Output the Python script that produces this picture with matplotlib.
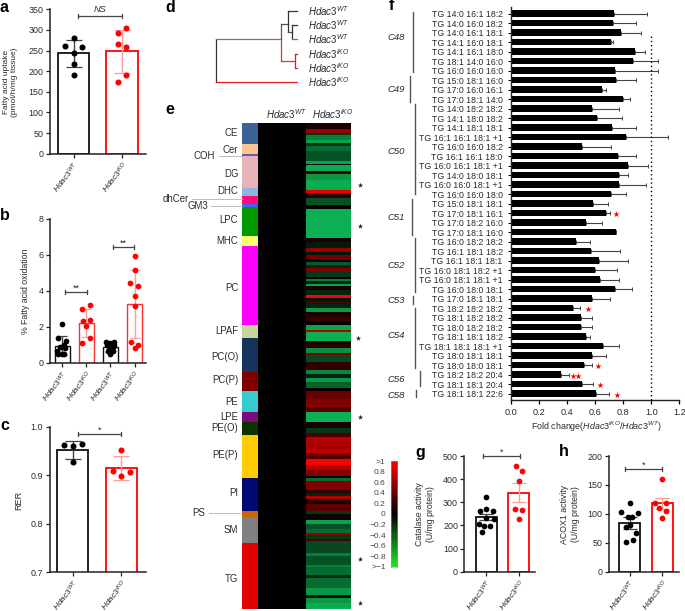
import numpy as np
import matplotlib
matplotlib.use('Agg')
import matplotlib.pyplot as plt
from matplotlib.colors import LinearSegmentedColormap

plt.rcParams['font.family'] = ['Liberation Sans', 'DejaVu Sans']
plt.rcParams['mathtext.fontset'] = 'custom'
plt.rcParams['mathtext.rm'] = 'Liberation Sans'
plt.rcParams['mathtext.it'] = 'Liberation Sans:italic'
plt.rcParams['mathtext.bf'] = 'Liberation Sans:bold'
plt.rcParams['axes.unicode_minus'] = True

WT = r'$\mathit{Hdac3}^{\mathit{WT}}$'
KO = r'$\mathit{Hdac3}^{\mathit{iKO}}$'
TXT = '#2a2a2a'
RED = '#ff0000'
PALE = '#ff9c9c'

# ---- panel a
a_means = [243, 248]
a_sd = [33, 53]
a_wt = [281, 261, 259, 245, 217, 190]
a_wt_off = [0.01, -0.17, 0.18, 0.01, 0.01, 0.01]
a_ko = [304, 293, 266, 259, 190, 175]
a_ko_off = [0.09, -0.09, -0.09, 0.09, 0.09, -0.09]
# ---- panel b
b_means = [0.96, 2.21, 0.88, 3.26]
b_sd = [0.53, 0.78, 0.25, 1.89]
b_pts = [
    [2.16, 1.36, 1.23, 1.0, 0.87, 0.83, 0.65, 0.5, 0.5, 0.5],
    [3.19, 3.02, 2.36, 2.34, 2.06, 1.38, 1.12],
    [1.18, 1.18, 1.1, 0.98, 0.98, 0.87, 0.87, 0.74, 0.65, 0.65, 0.5],
    [5.95, 5.16, 4.42, 4.26, 3.74, 3.15, 1.16, 0.98, 0.83],
]
b_off = [
    [0.0, -0.16, 0.15, 0.06, -0.08, 0.14, -0.19, 0.0, -0.15, 0.08],
    [0.15, -0.18, 0.14, -0.15, 0.0, 0.15, -0.18],
    [-0.18, 0.15, 0.0, -0.15, 0.15, -0.08, 0.1, 0.0, -0.12, 0.12, 0.0],
    [0.0, 0.0, -0.18, 0.15, 0.0, 0.0, -0.16, 0.15, 0.0],
]
# ---- panel c
c_means = [0.953, 0.916]
c_sd = [0.019, 0.025]
c_wt = [0.965, 0.963, 0.961, 0.927]
c_wt_off = [0.18, -0.18, 0.0, 0.0]
c_ko = [0.952, 0.909, 0.906, 0.898]
c_ko_off = [0.0, -0.18, 0.18, 0.0]
# ---- panel g
g_means = [235, 341]
g_sd = [13, 41]
g_wt = [321, 271, 264, 261, 233, 228, 206, 197, 197, 173]
g_wt_off = [0.0, 0.0, -0.2, 0.2, 0.0, 0.23, -0.21, -0.07, 0.12, -0.12]
g_ko = [455, 437, 393, 271, 267, 229]
g_ko_off = [-0.1, 0.1, 0.0, -0.11, 0.1, 0.0]
# ---- panel h
h_means = [84, 118]
h_sd = [10.5, 10]
h_wt = [119, 103, 102, 94, 94, 80, 77, 67, 55, 52]
h_wt_off = [0.0, -0.25, 0.25, -0.05, 0.09, 0.0, -0.1, 0.21, 0.1, -0.1]
h_ko = [161, 119, 119, 110, 105, 93]
h_ko_off = [0.0, -0.21, 0.11, -0.09, 0.11, 0.0]

# ---- panel d
dendro_labels = [WT, WT, WT, KO, KO, KO]

# ---- panel e
lipid_names = ['CE', 'Cer', 'COH', 'DG', 'DHC', 'dhCer', 'GM3', 'LPC', 'MHC', 'PC', 'LPAF', 'PC(O)',
               'PC(P)', 'PE', 'LPE', 'PE(O)', 'PE(P)', 'PI', 'PS', 'SM', 'TG']
lipid_rows = [21.5, 9.5, 2.5, 31.5, 8, 8, 3.5, 29, 9.5, 79, 13, 34, 19.5, 20.5, 10, 13, 43.5, 32.5, 6.5, 25.5, 66]
lipid_colors = ['#3a6496', '#fcc58f', '#6a5a9a', '#e4b4b8', '#8fb3e2', '#ff0a78', '#4060f0', '#009a00',
                '#ffff70', '#ff00ff', '#c6d69a', '#14335f', '#800000', '#33ccd0', '#7a0a80', '#0a3300',
                '#ffcc00', '#000a70', '#cc6600', '#808080', '#e00000']
ko_rows = [6, 4, 2, 5, 3, 3, 5, 10, 3, 1, 6.5, 3, 5.5, 10, 3.5, 5, 6.5, 3.5, 29, 4, 6, 4, 3, 4, 3, 3, 3, 4, 5, 2, 2, 3, 2,
           4, 5, 3, 3, 3, 4, 4, 4, 5, 4, 5, 2, 9, 3, 4, 5, 2, 7, 8, 4, 4, 4, 6, 3, 8, 8, 5, 10, 6, 5, 4, 7, 5,
           4, 3, 3, 6, 5, 5, 2, 3, 5, 4, 3, 3, 3, 5, 7, 3, 6, 4, 5, 4, 2, 4, 2, 12, 3, 9, 2, 8, 3, 10, 7, 3, 5, 6]
ko_values = [0.1, 0.6, -0.3, -0.7, -0.9, -0.3, -0.6, -0.45, -0.9, 0.0, -0.95, 0.25, -0.85, -0.95, 0.9, 0.2, -0.45, 0.0,
             -0.97, 0.1, -0.15, 0.6, -0.1, 0.45, 0.0, -0.5, -0.2, 0.5, -0.3, 0.0, -0.7, -0.2, -0.9,
             0.1, -0.2, 1.0, -0.1, 0.3, -0.2, -0.85, 0.1, 0.2, 0.0, -0.9, 0.7, -0.97, -0.05, 0.2, -0.8, 0.5, -0.4, 0.2,
             -0.75, -0.2, -0.85, -0.55, 0.0, 0.4, 0.5, 0.35, -0.97, 0.1, -0.3, 0.3, 0.7, 0.65,
             0.75, 0.45, 0.3, 1.0, 0.7, 0.5, 0.0, -0.6, 0.5, 0.5, 0.2, -0.2, 0.7, 0.15, 0.35, -0.3, 0.05, -0.9, -0.45, -0.6,
             0.6, -0.3, 0.3, -0.4, -0.7, -0.45, -0.7, -0.6, -0.25, -0.6, -0.85, -0.1, -0.85, -0.95]
cbar_ticks = [-1, -0.8, -0.6, -0.4, -0.2, 0, 0.2, 0.4, 0.6, 0.8, 1]
cbar_labels = ['>\u22121', '\u22120.8', '\u22120.6', '\u22120.4', '\u22120.2', '0', '0.2', '0.4', '0.6', '0.8', '>1']

# ---- panel f
f_names = ['TG 14:0 16:1 18:2', 'TG 14:0 16:0 18:2', 'TG 14:0 16:1 18:1', 'TG 14:1 16:0 18:1', 'TG 14:1 16:1 18:0',
           'TG 18:1 14:0 16:0', 'TG 16:0 16:0 16:0', 'TG 15:0 18:1 16:0', 'TG 17:0 16:0 16:1', 'TG 17:0 18:1 14:0',
           'TG 14:0 18:2 18:2', 'TG 14:1 18:0 18:2', 'TG 14:1 18:1 18:1', 'TG 16:1 16:1 18:1 +1', 'TG 16:0 16:0 18:2',
           'TG 16:1 16:1 18:0', 'TG 16:0 16:1 18:1 +1', 'TG 14:0 18:0 18:1', 'TG 16:0 16:0 18:1 +1', 'TG 16:0 16:0 18:0',
           'TG 15:0 18:1 18:1', 'TG 17:0 18:1 16:1', 'TG 17:0 18:2 16:0', 'TG 17:0 18:1 16:0', 'TG 16:0 18:2 18:2',
           'TG 16:1 18:1 18:2', 'TG 16:1 18:1 18:1', 'TG 16:0 18:1 18:2 +1', 'TG 16:0 18:1 18:1 +1', 'TG 16:0 18:0 18:1',
           'TG 17:0 18:1 18:1', 'TG 18:2 18:2 18:2', 'TG 18:1 18:2 18:2', 'TG 18:0 18:2 18:2', 'TG 18:1 18:1 18:2',
           'TG 18:1 18:1 18:1 +1', 'TG 18:0 18:1 18:1', 'TG 18:0 18:0 18:1', 'TG 18:2 18:2 20:4', 'TG 18:1 18:1 20:4',
           'TG 18:1 18:1 22:6']
f_values = [0.734, 0.725, 0.782, 0.715, 0.882, 0.867, 0.744, 0.746, 0.646, 0.80, 0.577, 0.611, 0.72, 0.82, 0.506,
            0.765, 0.832, 0.768, 0.77, 0.715, 0.582, 0.677, 0.532, 0.746, 0.463, 0.57, 0.627, 0.599, 0.637, 0.741,
            0.58, 0.444, 0.499, 0.499, 0.535, 0.658, 0.575, 0.523, 0.356, 0.504, 0.604]
f_upper = [0.967, 0.894, 0.927, 0.73, 0.953, 1.046, 1.05, 0.889, 0.675, 0.851, 0.772, 0.794, 0.889, 1.117, 0.711,
           0.891, 0.979, 0.836, 0.965, 0.817, 0.689, 0.708, 0.646, 0.746, 0.561, 0.777, 0.834, 0.756, 0.768, 0.86,
           0.708, 0.494, 0.58, 0.58, 0.566, 0.77, 0.675, 0.58, 0.411, 0.585, 0.699]
f_star_rows = [21, 31, 37, 38, 38, 39, 40]
f_star_x = [0.749, 0.547, 0.623, 0.444, 0.478, 0.637, 0.756]
f_xticks = [0.0, 0.2, 0.4, 0.6, 0.8, 1.0, 1.2]

W, H = 685, 611
fig = plt.figure(figsize=(W / 100, H / 100), dpi=100, facecolor='white')


def ax_px(l, t, r, b, **kw):
    return fig.add_axes([l / W, 1 - b / H, (r - l) / W, (b - t) / H], **kw)


def style(ax, ylim, yticks, xlim, fs=6.4):
    ax.set_xlim(*xlim)
    ax.set_ylim(*ylim)
    ax.set_yticks(yticks)
    for s in ('top', 'right'):
        ax.spines[s].set_visible(False)
    for s in ('left', 'bottom'):
        ax.spines[s].set_linewidth(1.1)
        ax.spines[s].set_color('#222222')
    ax.tick_params(axis='both', length=3, width=0.9, labelsize=fs, pad=1.5, colors='#222222', labelcolor=TXT)


def xlabels(ax, labels, fs=6.0):
    ax.set_xticks(range(len(labels)))
    ax.set_xticklabels(labels, rotation=52, ha='right', rotation_mode='anchor', fontsize=fs, color=TXT)


def bars(ax, means, sds, colors, stems, width, capsize, lw=1.3):
    for i, (m, sd, c, st) in enumerate(zip(means, sds, colors, stems)):
        ax.bar(i, m, width=width, facecolor='white', edgecolor=c, linewidth=lw, zorder=2)
        ax.errorbar(i, m, yerr=sd, ecolor=st, elinewidth=1.0, capsize=capsize, capthick=0.9, zorder=3, fmt='none')


def dots(ax, x0, off, vals, color, s=19):
    ax.scatter([x0 + o for o in off], vals, s=s, color=color, zorder=4, linewidths=0)


two_cols = ['#111111', RED]
two_stems = ['#444444', PALE]

# a
ax = ax_px(50, 9.3, 146, 153.7)
style(ax, (0, 350), range(0, 351, 50), (-0.485, 1.495))
bars(ax, a_means, a_sd, two_cols, two_stems, 0.64, 5.6)
dots(ax, 0, a_wt_off, a_wt, 'black')
dots(ax, 1, a_ko_off, a_ko, RED)
xlabels(ax, [WT, KO])
# b
ax = ax_px(50, 218.7, 146, 363)
style(ax, (0, 8), range(0, 9, 2), (-0.5, 3.47))
bars(ax, b_means, b_sd, ['#111111', '#ff3030', '#111111', '#ff3030'], ['#444444', PALE, '#444444', PALE], 0.62, 3.6, lw=1.0)
for i, col in enumerate(['black', RED, 'black', RED]):
    dots(ax, i, b_off[i], b_pts[i], col, s=17)
xlabels(ax, [WT, KO, WT, KO])
# c
ax = ax_px(49.5, 427, 146, 572)
style(ax, (0.7, 1.0), [0.7, 0.8, 0.9, 1.0], (-0.485, 1.51))
bars(ax, c_means, c_sd, two_cols, two_stems, 0.64, 5.6)
dots(ax, 0, c_wt_off, c_wt, 'black')
dots(ax, 1, c_ko_off, c_ko, RED)
xlabels(ax, [WT, KO])
# g
ax = ax_px(464.3, 456, 535, 571.7)
style(ax, (0, 500), range(0, 501, 100), (-0.667, 1.49))
bars(ax, g_means, g_sd, two_cols, two_stems, 0.64, 5.2)
dots(ax, 0, g_wt_off, g_wt, 'black', s=17)
dots(ax, 1, g_ko_off, g_ko, RED, s=17)
xlabels(ax, [WT, KO])
# h
ax = ax_px(609, 456, 679, 571.7)
style(ax, (0, 200), range(0, 201, 50), (-0.627, 1.51))
bars(ax, h_means, h_sd, two_cols, two_stems, 0.64, 5.0)
dots(ax, 0, h_wt_off, h_wt, 'black', s=17)
dots(ax, 1, h_ko_off, h_ko, RED, s=17)
xlabels(ax, [WT, KO])

# e: sidebar
ax = ax_px(242.3, 122.7, 258, 609)
bottoms = np.concatenate([[0], np.cumsum(lipid_rows)[:-1]])
ax.barh(bottoms, [1] * len(lipid_rows), height=lipid_rows, align='edge', color=lipid_colors, linewidth=0)
ax.set_xlim(0, 1)
ax.set_ylim(sum(lipid_rows), 0)
ax.axis('off')

# e: heat map
ax = ax_px(258, 122.7, 350.7, 609)
cmap = LinearSegmentedColormap.from_list('hm', [(0, '#0cb354'), (0.5, '#000000'), (1, '#ff0000')])
edges = np.concatenate([[0], np.cumsum(ko_rows)])
matrix = np.column_stack([np.zeros(len(ko_values)), ko_values])
ax.pcolormesh([0, 47.7, 92.7], edges, matrix, cmap=cmap, vmin=-1, vmax=1, linewidth=0, rasterized=True)
ax.set_ylim(edges[-1], 0)
ax.axis('off')

# e: colour bar
ax = ax_px(391.3, 461.3, 397.3, 566.7)
cb = LinearSegmentedColormap.from_list('cb', [(0, '#22e622'), (0.5, '#000000'), (1, '#ff0000')])
ax.imshow(np.linspace(1, -1, 200).reshape(-1, 1), cmap=cb, vmin=-1, vmax=1, aspect='auto', extent=(0, 1, -1, 1))
ax.set_xticks([])
ax.set_yticks(cbar_ticks)
ax.set_yticklabels(cbar_labels, fontsize=6, color='#444444')
ax.tick_params(axis='y', length=0, pad=4)
for s in ax.spines.values():
    s.set_linewidth(0.4)
    s.set_color('#88aa88')

# f
ax = ax_px(511, 7, 679.3, 399.7)
rows = np.arange(len(f_names))
errs = [u - v for u, v in zip(f_upper, f_values)]
ax.barh(rows, f_values, height=0.68, color='black', zorder=2)
ax.errorbar(f_values, rows, xerr=[[0] * len(errs), errs], fmt='none', ecolor='#444444', elinewidth=0.8, capsize=1.3,
            capthick=0.7, zorder=1)
ax.axvline(1.0, ymin=0, ymax=(40.63 - 2.13) / 41.33, color='black', lw=1.0, ls=(0, (1, 2)), zorder=1)
ax.scatter(f_star_x, np.array(f_star_rows) + 0.1, marker='*', s=22, color=RED, linewidths=0, zorder=3)
ax.set_xlim(0, 1.2)
ax.set_ylim(40.63, -0.705)
ax.set_yticks(rows)
ax.set_yticklabels(f_names, fontsize=6.3, color=TXT)
ax.set_xticks(f_xticks)
ax.set_xticklabels(['%.1f' % v for v in f_xticks], fontsize=6.6, color=TXT)
for s in ('top', 'right'):
    ax.spines[s].set_visible(False)
for s in ('left', 'bottom'):
    ax.spines[s].set_linewidth(1.0)
    ax.spines[s].set_color('#222222')
ax.tick_params(axis='y', length=2, width=0.7, pad=4)
ax.tick_params(axis='x', length=3, width=0.9, pad=3)

# overlay in pixel coordinates: annotations
ov = fig.add_axes([0, 0, 1, 1], zorder=10, facecolor='none')
ov.set_xlim(0, W)
ov.set_ylim(H, 0)
ov.axis('off')


def T(x, y, s, ha='center', va='center', fs=6.6, **kw):
    kw.setdefault('color', TXT)
    ov.text(x, y, s, ha=ha, va=va, fontsize=fs, **kw)


def bracket(x0, x1, y, label, ly, italic=False, fs=6.6):
    ov.plot([x0, x1], [y, y], color='#444444', lw=0.9)
    for x in (x0, x1):
        ov.plot([x, x], [y - 2, y + 2], color='#444444', lw=0.9)
    T((x0 + x1) / 2, ly, label, fs=fs, style='italic' if italic else 'normal')


for x, y, s in [(4.5, 8, 'a'), (4.5, 215, 'b'), (4.5, 425, 'c'), (170, 7, 'd'), (170, 109, 'e'), (391, 6, 'f'),
                (420, 453, 'g'), (564, 452, 'h')]:
    T(x, y, s, fs=11.5, fontweight='bold', color='black')

bracket(78.3, 121.7, 15.7, 'NS', 9.3, italic=True, fs=6.6)
bracket(65, 87.3, 292, '**', 288.5)
bracket(112.7, 134.3, 246.7, '**', 243)
bracket(78.3, 121, 433.7, '*', 430)
bracket(482.7, 520, 456, '*', 452.5)
bracket(624.7, 662.3, 469.3, '*', 465.5)

T(10.5, 82, 'Fatty acid uptake\n(pmol/h/mg tissue)', rotation=90, fs=6.0, linespacing=1.2)
T(25.7, 291.7, '% Fatty acid oxidation', rotation=90, fs=6.3)
T(19, 500, 'RER', rotation=90, fs=6.6)
T(425, 514, 'Catalase activity\n(U/mg protein)', rotation=90, fs=6.3, linespacing=1.2)
T(570, 514, 'ACOX1 activity\n(U/mg protein)', rotation=90, fs=6.3, linespacing=1.2)
T(596, 426.7, r'Fold change($\mathit{Hdac3}^{\mathit{iKO}}$/$\mathit{Hdac3}^{\mathit{WT}}$)', fs=6.4)

# d: dendrogram
GR, DK = '#555555', '#333333'
segs = [
    (215.7, 215.7, 39.3, 82, DK), (215.7, 281, 39.3, 39.3, '#777777'), (215.7, 297, 82, 82, '#e02020'),
    (281, 281, 24, 39.3, GR), (281, 281, 39.3, 61, '#e83030'), (281, 288, 24, 24, GR), (288, 288, 11, 32, DK),
    (288, 297, 11, 11, DK), (288, 292, 32, 32, GR), (292, 292, 25, 39, DK), (292, 297, 25, 25, DK),
    (292, 297, 39, 39, '#777777'), (281, 295, 61, 61, '#e83030'), (295, 295, 53.7, 68, '#e02020'),
    (295, 297, 53.7, 53.7, '#e02020'), (295, 297, 68, 68, '#e02020'),
]
for x0, x1, y0, y1, c in segs:
    ov.plot([x0, x1], [y0, y1], color=c, lw=0.9, solid_capstyle='projecting')
for y, s in zip([11, 25, 39, 54, 68, 82], dendro_labels):
    T(308.3, y, s, ha='left', fs=7)

T(286.7, 114, WT, fs=7)
T(332.7, 114, KO, fs=7)

lipid_label_y = [133, 150, None, 174, 191, None, None, 220, 240.7, 287.7, 331, 356.7, 380, 402, 417, 428, 454.7, 493,
                 None, 530, 579]
for name, y in zip(lipid_names, lipid_label_y):
    if y is not None:
        T(238.3, y, name, ha='right', fs=6.9)
for name, tx, y, lx in [('COH', 215.3, 155.7, 218.7), ('dhCer', 188.7, 198.5, 192), ('GM3', 208, 206, 211),
                        ('PS', 205, 513, 209)]:
    T(tx, y, name, ha='right', fs=6.9)
    ov.plot([lx, 240 if name == 'PS' else 242], [y, y], color='#bbbbbb', lw=0.7)
for x, y in [(360, 185), (360, 226), (358, 337.7), (360, 416.7), (360, 559), (360, 603)]:
    ov.scatter([x], [y], marker='*', s=16, color='#222222', linewidths=0)

# f: carbon groups
for x, y0, y1 in [(413.3, 11.7, 72), (409.7, 76, 101.7), (415, 104, 194), (412, 199, 235), (415, 238, 291.7),
                  (413.3, 296, 304), (415, 307.7, 367.7), (420, 371, 385.7), (416, 390, 397)]:
    ov.plot([x, x], [y0, y1], color='#555555', lw=1.0)
for y, s in [(37, 'C48'), (90, 'C49'), (151, 'C50'), (217.7, 'C51'), (265, 'C52'), (300.7, 'C53'), (335, 'C54'),
             (379, 'C56'), (395, 'C58')]:
    T(396, y, s, fs=6.8, style='italic')

fig.savefig('out.png', dpi=100, facecolor='white')
